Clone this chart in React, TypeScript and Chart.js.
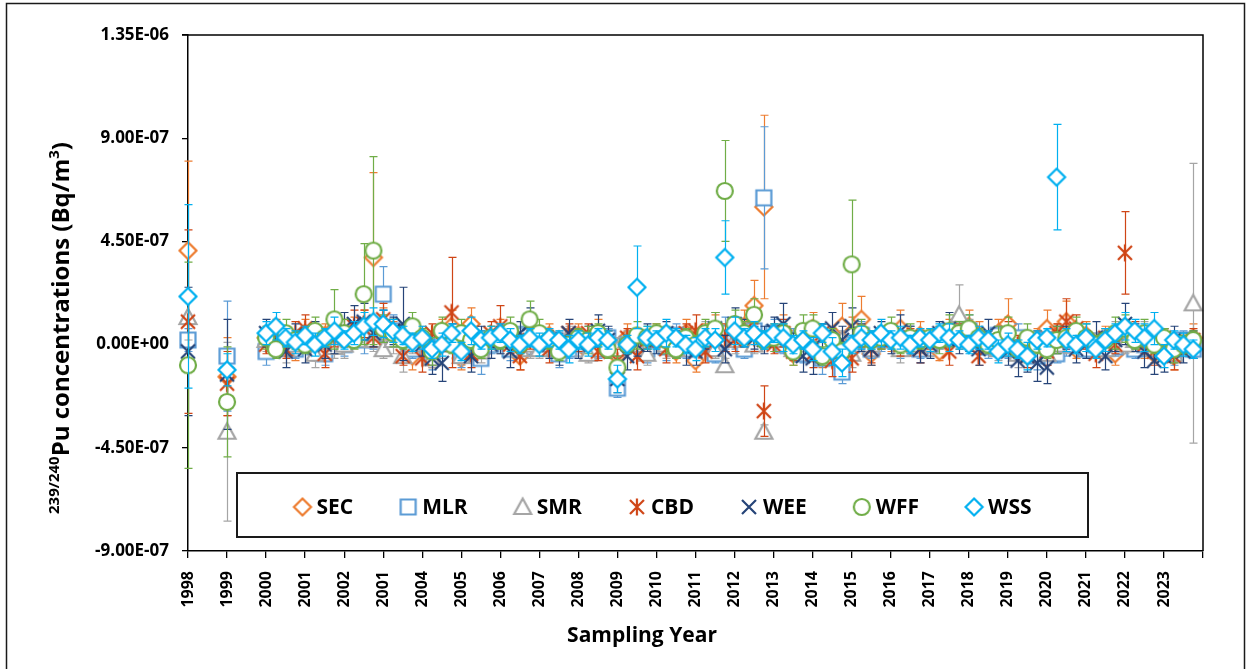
import React, { useEffect, useRef } from 'react';
import { Chart, registerables } from 'chart.js';

Chart.register(...registerables);

const W = 1251;
const H = 669;
const UNIT = 1e-8; // all series values and errors below are in units of 1E-08 Bq/m3

// x positions (sampling year)
const X_YEARS = [
  1998, 1999,
  2000, 2000.25, 2000.5, 2000.75, 2001, 2001.25, 2001.5, 2001.75,
  2002, 2002.25, 2002.5, 2002.75, 2003, 2003.25, 2003.5, 2003.75,
  2004, 2004.25, 2004.5, 2004.75, 2005, 2005.25, 2005.5, 2005.75,
  2006, 2006.25, 2006.5, 2006.75, 2007, 2007.25, 2007.5, 2007.75,
  2008, 2008.25, 2008.5, 2008.75, 2009, 2009.25, 2009.5, 2009.75,
  2010, 2010.25, 2010.5, 2010.75, 2011, 2011.25, 2011.5, 2011.75,
  2012, 2012.25, 2012.5, 2012.75, 2013, 2013.25, 2013.5, 2013.75,
  2014, 2014.25, 2014.5, 2014.75, 2015, 2015.25, 2015.5, 2015.75,
  2016, 2016.25, 2016.5, 2016.75, 2017, 2017.25, 2017.5, 2017.75,
  2018, 2018.25, 2018.5, 2018.75, 2019, 2019.25, 2019.5, 2019.75,
  2020, 2020.25, 2020.5, 2020.75, 2021, 2021.25, 2021.5, 2021.75,
  2022, 2022.25, 2022.5, 2022.75, 2023, 2023.25, 2023.5, 2023.75,
];

const X_TICKS = [1998, 1999, 2000, 2001, 2002, 2003, 2004, 2005, 2006, 2007, 2008, 2009, 2010, 2011, 2012, 2013, 2014, 2015, 2016, 2017, 2018, 2019, 2020, 2021, 2022, 2023, 2024];
const X_TICK_LABELS = ['1998', '1999', '2000', '2001', '2002', '2001', '2004', '2005', '2006', '2007', '2008', '2009', '2010', '2011', '2012', '2013', '2014', '2015', '2016', '2017', '2018', '2019', '2020', '2021', '2022', '2023', ''];

const Y_TICKS = [-9e-7, -4.5e-7, 0, 4.5e-7, 9e-7, 1.35e-6];
const Y_TICK_LABELS = ['-9.00E-07', '-4.50E-07', '0.00E+00', '4.50E-07', '9.00E-07', '1.35E-06'];

const SEC_VAL = [41, -14,
  3, 5, 1, -2, 5, -3, 4, 7, 2, 6, 8, 38, 9, 5, 3, -5, 2, -4, 6, 8, -6, 9, -4, 3,
  5, -1, -5, 4, 2, 4, -3, 1, 4, -3, 5, 2, -5, 3, 2, -1, 4, 2, -3, 5, -7, 3, 6, 2,
  5, 8, 17, 60, 3, 6, -4, 2, 7, -5, 2, 8, 5, 11, -4, 3, 2, 7, -1, 4, 2, -3, 5, 3,
  8, 4, 2, 5, 9, 1, -4, 2, 7, 3, 10, -2, 4, -1, 2, -4, 5, 2, -1, -4, 2, -5, 1, 3];
const SEC_ERR = [39, 17,
  5, 6, 4, 5, 6, 4, 5, 6, 4, 6, 7, 37, 7, 5, 4, 6, 5, 6, 5, 7, 5, 7, 4, 5,
  6, 4, 6, 5, 4, 5, 4, 6, 5, 4, 6, 5, 4, 6, 5, 4, 5, 4, 5, 6, 5, 6, 7, 5,
  6, 7, 11, 40, 6, 7, 5, 4, 7, 5, 6, 10, 7, 10, 5, 4, 5, 8, 4, 6, 5, 4, 6, 5,
  7, 6, 4, 6, 11, 5, 4, 5, 8, 6, 9, 4, 6, 4, 6, 5, 6, 4, 5, 4, 5, 6, 4, 6];

const MLR_VAL = [2, -5,
  -3, 2, 0, -2, 3, -1, -4, 2, 0, 4, 2, 5, 22, 6, 3, -2, 1, -5, 3, 2, -4, 2, -6, 0,
  2, -2, 4, -1, 0, 2, -4, -2, 2, 0, -2, 3, -19, 0, 2, -2, 2, -1, 4, -2, 0, 2, -4, 5,
  3, -2, 6, 64, 5, 0, 2, -4, 2, -6, -4, -12, 0, 4, -2, 2, 3, -1, 2, -2, 0, 2, 4, 5,
  6, 2, -1, 4, -2, 3, 0, -5, 2, -4, 0, 3, -2, 0, 2, -1, 4, -2, 0, 2, 0, -4, 2, -2];
const MLR_ERR = [5, 24,
  6, 4, 5, 4, 4, 6, 5, 4, 5, 4, 6, 7, 12, 7, 5, 4, 4, 6, 4, 5, 6, 4, 7, 4,
  4, 5, 4, 4, 5, 4, 6, 4, 4, 5, 4, 4, 4, 4, 5, 6, 4, 6, 5, 4, 4, 6, 4, 7,
  5, 4, 6, 31, 6, 4, 5, 4, 4, 7, 5, 5, 4, 6, 4, 5, 4, 5, 6, 4, 5, 4, 4, 6,
  7, 4, 5, 4, 4, 6, 4, 6, 5, 4, 5, 6, 4, 5, 4, 4, 6, 4, 5, 6, 4, 5, 4, 4];

const SMR_VAL = [12, -38,
  2, 5, -2, 0, 3, -4, 2, -1, 0, 4, 5, 2, -2, 2, -5, 0, 3, -6, 0, 2, -5, 0, -3, 2,
  2, 4, -2, 0, -2, 0, 2, 4, 0, -4, 2, 0, -2, 2, 0, -4, 4, 0, -2, 2, 0, 4, -2, -9,
  2, 5, 0, -38, 2, 4, -2, 0, 4, 0, -5, 2, -4, 2, 0, 4, 2, -2, 4, 0, 0, 2, 4, 13,
  5, 2, 0, -2, 0, -4, -2, 2, -4, 0, 2, 4, 2, 0, -2, 4, 0, 2, 4, -2, 2, -4, 0, 18];
const SMR_ERR = [10, 39,
  5, 4, 6, 4, 4, 6, 4, 5, 6, 4, 6, 5, 4, 6, 7, 4, 5, 4, 6, 4, 4, 6, 5, 4,
  6, 4, 4, 6, 4, 5, 4, 4, 5, 4, 6, 4, 5, 4, 4, 5, 4, 6, 4, 4, 4, 6, 4, 3,
  6, 4, 4, 3, 5, 4, 4, 6, 4, 6, 4, 4, 6, 4, 5, 4, 4, 6, 4, 4, 5, 4, 4, 13,
  6, 4, 4, 5, 4, 6, 4, 4, 5, 4, 6, 4, 4, 5, 4, 6, 4, 4, 6, 4, 5, 4, 4, 61];

const CBD_VAL = [10, -17,
  0, 4, -2, 5, 7, 2, -4, 3, 5, 8, 9, 3, 11, 6, -5, 3, -6, 5, 2, 14, 3, -4, 2, 5,
  8, 0, -5, 2, 3, -2, 0, 5, 2, 5, -3, 0, -7, 3, -5, 2, 3, -2, 0, 5, 6, -3, 5, 3,
  2, 6, 3, -29, 0, 5, -3, 2, -4, 5, -7, -3, -6, 3, -2, 2, 5, 0, 3, -2, 2, 4, -3, 5,
  3, -5, 2, 0, 4, 0, -5, 2, -3, 5, 10, 7, 2, -4, 3, 0, 40, 5, 0, -3, 3, -5, 0, 2];
const CBD_ERR = [40, 14,
  4, 6, 4, 5, 6, 4, 6, 4, 6, 7, 6, 4, 7, 5, 4, 6, 6, 4, 5, 24, 4, 6, 4, 5,
  9, 4, 6, 4, 4, 6, 4, 4, 5, 4, 4, 6, 5, 4, 6, 4, 4, 6, 4, 4, 7, 5, 4, 6,
  5, 4, 6, 11, 4, 6, 4, 4, 6, 4, 7, 5, 6, 4, 6, 4, 4, 5, 4, 6, 4, 4, 6, 4,
  6, 4, 4, 5, 6, 4, 5, 4, 6, 4, 10, 6, 4, 6, 4, 4, 18, 5, 4, 6, 4, 6, 4, 5];

const WEE_VAL = [-3, -13,
  5, 2, -3, 4, -2, 5, 0, 3, 7, 9, 10, 5, 8, 6, 9, 3, 0, -6, -8, 3, 2, -5, 3, 0,
  2, -3, 5, 9, 3, 0, -2, 5, 0, 3, 6, 2, -15, -5, 0, 3, 2, 5, 0, -2, -3, 3, 7, -2,
  9, 5, 3, 2, 6, 9, 0, -5, -6, 3, 7, 2, 8, 3, -2, 5, 2, 6, 3, -2, 0, 5, 7, 2,
  3, -2, 5, 0, -3, -7, -5, -8, -10, 2, 3, -2, 0, 3, -5, 2, 9, 3, -3, -7, -5, 2, -3, 0];
const WEE_ERR = [28, 24,
  6, 5, 7, 5, 6, 5, 6, 7, 7, 8, 8, 6, 7, 6, 16, 6, 5, 7, 8, 6, 6, 7, 5, 6,
  6, 7, 5, 7, 5, 6, 7, 6, 6, 5, 7, 6, 6, 6, 5, 6, 6, 5, 6, 7, 6, 5, 7, 6,
  7, 6, 5, 6, 6, 9, 5, 7, 7, 6, 7, 6, 8, 6, 7, 5, 6, 7, 5, 6, 6, 5, 7, 6,
  6, 7, 6, 5, 6, 7, 7, 8, 7, 6, 5, 6, 6, 7, 6, 5, 9, 6, 7, 6, 7, 6, 5, 6];

const WFF_VAL = [-9, -25,
  3, -2, 5, 2, 0, 6, 3, 11, 5, 2, 22, 41, 7, 5, 2, 8, 3, -3, 6, 0, 5, 2, -2, 3,
  2, 6, 0, 11, 5, 2, -3, 0, 3, 2, 5, -2, -10, 0, 4, 3, 5, 2, -2, 3, 0, 5, 7, 67,
  9, 5, 13, 2, 3, 5, -3, 6, 7, -5, 2, -3, 35, 5, 2, 3, 6, 0, 3, 2, 3, 2, 6, 5,
  7, 3, 0, 2, 5, -2, 3, 0, -2, 2, 3, 6, 3, 0, 2, 5, 7, 2, 5, 0, 3, -2, 0, 2];
const WFF_ERR = [45, 24,
  5, 4, 6, 4, 4, 6, 4, 13, 6, 4, 22, 41, 6, 6, 4, 6, 4, 6, 6, 4, 6, 4, 4, 5,
  4, 6, 4, 8, 6, 4, 4, 4, 4, 6, 4, 4, 5, 4, 6, 5, 4, 6, 4, 4, 4, 6, 7, 22,
  6, 5, 7, 4, 6, 4, 6, 7, 6, 4, 5, 4, 28, 6, 4, 5, 6, 4, 6, 4, 4, 6, 7, 5,
  6, 4, 4, 6, 7, 4, 6, 4, 4, 6, 4, 6, 6, 4, 5, 7, 6, 4, 6, 4, 4, 6, 4, 4];

const WSS_VAL = [21, -11,
  5, 8, 3, 1, 4, 0, 3, 6, 2, 5, 8, 10, 9, 6, 4, 1, 3, -2, 0, 5, -3, 6, 2, 3,
  5, 2, 0, 3, 0, 3, 2, -2, 2, 0, 3, 2, -15, 0, 25, 3, 2, 5, 3, 0, -2, 3, 2, 38,
  6, 3, 5, 2, 5, 3, 0, 2, -2, 5, -3, -8, 0, 3, 2, 5, 2, 3, 0, 3, 2, 5, 3, 2,
  0, 3, 2, -3, 0, -2, -5, 2, 3, 73, 2, 0, 3, -2, 2, 5, 8, 6, 3, 7, -5, 2, 0, -2];
const WSS_ERR = [40, 7,
  5, 6, 4, 5, 4, 5, 4, 6, 4, 5, 6, 6, 6, 5, 4, 4, 5, 4, 5, 4, 4, 6, 4, 5,
  4, 5, 4, 4, 5, 4, 4, 6, 4, 5, 4, 4, 6, 4, 18, 5, 4, 6, 4, 4, 5, 4, 5, 16,
  6, 4, 5, 4, 4, 6, 4, 4, 5, 4, 6, 6, 4, 5, 4, 6, 4, 5, 4, 4, 5, 4, 6, 4,
  4, 5, 4, 5, 5, 4, 6, 4, 4, 23, 5, 4, 6, 4, 5, 4, 6, 5, 6, 7, 5, 4, 5, 4];

type MarkerKind = 'diamond' | 'square' | 'triangle' | 'star' | 'x' | 'circle';

const SERIES: { label: string; color: string; marker: MarkerKind; val: number[]; err: number[] }[] = [
  { label: 'SEC', color: '#ED7D31', marker: 'diamond', val: SEC_VAL, err: SEC_ERR },
  { label: 'MLR', color: '#5B9BD5', marker: 'square', val: MLR_VAL, err: MLR_ERR },
  { label: 'SMR', color: '#A5A5A5', marker: 'triangle', val: SMR_VAL, err: SMR_ERR },
  { label: 'CBD', color: '#CF4516', marker: 'star', val: CBD_VAL, err: CBD_ERR },
  { label: 'WEE', color: '#264478', marker: 'x', val: WEE_VAL, err: WEE_ERR },
  { label: 'WFF', color: '#70AD47', marker: 'circle', val: WFF_VAL, err: WFF_ERR },
  { label: 'WSS', color: '#00B0F0', marker: 'diamond', val: WSS_VAL, err: WSS_ERR },
];

const FONT = '"Open Sans", "DejaVu Sans", sans-serif';

function makeMarker(kind: MarkerKind, color: string): HTMLCanvasElement {
  const s = 26;
  const c = document.createElement('canvas');
  c.width = s;
  c.height = s;
  const ctx = c.getContext('2d')!;
  const m = s / 2;
  ctx.lineWidth = 2.2;
  ctx.strokeStyle = color;
  ctx.fillStyle = '#ffffff';
  ctx.lineJoin = 'miter';
  ctx.beginPath();
  if (kind === 'diamond') {
    ctx.moveTo(m, m - 8.5);
    ctx.lineTo(m + 8.5, m);
    ctx.lineTo(m, m + 8.5);
    ctx.lineTo(m - 8.5, m);
    ctx.closePath();
    ctx.fill();
    ctx.stroke();
  } else if (kind === 'square') {
    ctx.rect(m - 7.5, m - 7.5, 15, 15);
    ctx.fill();
    ctx.stroke();
  } else if (kind === 'triangle') {
    ctx.moveTo(m, m - 8.5);
    ctx.lineTo(m + 8.5, m + 7);
    ctx.lineTo(m - 8.5, m + 7);
    ctx.closePath();
    ctx.fill();
    ctx.stroke();
  } else if (kind === 'circle') {
    ctx.arc(m, m, 8, 0, Math.PI * 2);
    ctx.fill();
    ctx.stroke();
  } else {
    ctx.moveTo(m - 7, m - 7);
    ctx.lineTo(m + 7, m + 7);
    ctx.moveTo(m + 7, m - 7);
    ctx.lineTo(m - 7, m + 7);
    if (kind === 'star') {
      ctx.moveTo(m, m - 8.5);
      ctx.lineTo(m, m + 8.5);
    }
    ctx.stroke();
  }
  return c;
}

export default function App() {
  const ref = useRef<HTMLCanvasElement>(null);

  useEffect(() => {
    const canvas = ref.current;
    if (!canvas) return;
    const markers = SERIES.map((s) => makeMarker(s.marker, s.color));

    const datasets = SERIES.map((s, si) => ({
      label: s.label,
      data: X_YEARS.map((x, i) => ({ x, y: s.val[i] * UNIT })),
      showLine: false,
      pointStyle: markers[si] as any,
      pointRadius: 9,
      pointHoverRadius: 9,
      borderColor: s.color,
      backgroundColor: '#ffffff',
      clip: false as any,
      order: SERIES.length - si,
    }));

    const decor = {
      id: 'decor',
      beforeDraw(chart: any) {
        const ctx = chart.ctx;
        ctx.save();
        ctx.fillStyle = '#ffffff';
        ctx.fillRect(0, 0, W, H);
        ctx.strokeStyle = '#1a1a1a';
        ctx.lineWidth = 1.5;
        ctx.strokeRect(6.5, 3.5, 1238, 720);
        ctx.restore();
      },
      beforeDatasetDraw(chart: any, args: any) {
        const s = SERIES[args.index];
        if (!s) return;
        const ctx = chart.ctx;
        const xs = chart.scales.x;
        const ys = chart.scales.y;
        ctx.save();
        ctx.strokeStyle = s.color;
        ctx.lineWidth = 1.2;
        ctx.beginPath();
        X_YEARS.forEach((xv, i) => {
          const v = s.val[i];
          const e = s.err[i];
          const px = Math.round(xs.getPixelForValue(xv)) + 0.5;
          const pt = ys.getPixelForValue((v + e) * UNIT);
          const pb = ys.getPixelForValue((v - e) * UNIT);
          ctx.moveTo(px, pt);
          ctx.lineTo(px, pb);
          ctx.moveTo(px - 4, pt);
          ctx.lineTo(px + 4, pt);
          ctx.moveTo(px - 4, pb);
          ctx.lineTo(px + 4, pb);
        });
        ctx.stroke();
        ctx.restore();
      },
      afterDatasetsDraw(chart: any) {
        const ctx = chart.ctx;
        const a = chart.chartArea;
        ctx.save();
        ctx.strokeStyle = '#000000';
        ctx.lineWidth = 1.5;
        ctx.beginPath();
        ctx.moveTo(a.left - 6, a.top);
        ctx.lineTo(a.right, a.top);
        ctx.lineTo(a.right, a.bottom);
        ctx.stroke();
        ctx.restore();
      },
      afterDraw(chart: any) {
        const ctx = chart.ctx;
        const a = chart.chartArea;
        ctx.save();
        // legend box
        const bx = a.left + 49;
        const by = 473;
        const bw = 851;
        const bh = 64;
        ctx.fillStyle = '#ffffff';
        ctx.fillRect(bx, by, bw, bh);
        ctx.strokeStyle = '#1a1a1a';
        ctx.lineWidth = 2;
        ctx.strokeRect(bx, by, bw, bh);
        ctx.font = `bold 21px ${FONT}`;
        ctx.fillStyle = '#000000';
        ctx.textBaseline = 'middle';
        ctx.textAlign = 'left';
        const gapLabel = 14;
        const gapNext = 55;
        const widths = SERIES.map((s) => ctx.measureText(s.label).width);
        let total = 9;
        widths.forEach((w, i) => {
          total += gapLabel + w + (i < widths.length - 1 ? gapNext : 0);
        });
        let x = bx + bw / 2 - total / 2 + 9;
        const cy = by + bh / 2 + 2;
        SERIES.forEach((s, i) => {
          const mk = markers[i];
          ctx.drawImage(mk, x - mk.width / 2, cy - mk.height / 2);
          ctx.fillText(s.label, x + gapLabel, cy + 1);
          x += gapLabel + widths[i] + gapNext;
        });

        // x axis title
        ctx.font = `bold 21px ${FONT}`;
        ctx.textAlign = 'center';
        ctx.textBaseline = 'alphabetic';
        ctx.fillText('Sampling Year', 642, 642);

        // y axis title with superscripts
        const parts = [
          { t: '239/240', sup: true },
          { t: 'Pu concentrations (Bq/m', sup: false },
          { t: '3', sup: true },
          { t: ')', sup: false },
        ];
        const bigF = `bold 24px ${FONT}`;
        const supF = `bold 15px ${FONT}`;
        const pw = parts.map((p) => {
          ctx.font = p.sup ? supF : bigF;
          return ctx.measureText(p.t).width;
        });
        const tw = pw.reduce((q, w) => q + w, 0);
        ctx.translate(69, 328);
        ctx.rotate(-Math.PI / 2);
        ctx.textAlign = 'left';
        let tx = -tw / 2;
        parts.forEach((p, i) => {
          ctx.font = p.sup ? supF : bigF;
          ctx.fillText(p.t, tx, p.sup ? -10 : 0);
          tx += pw[i];
        });
        ctx.restore();
      },
    };

    const chart = new Chart(canvas, {
      type: 'scatter',
      data: { datasets: datasets as any },
      options: {
        responsive: false,
        maintainAspectRatio: false,
        animation: false,
        events: [],
        layout: { padding: { left: 0, top: 35, right: W - 1203, bottom: 0 } },
        plugins: {
          legend: { display: false },
          tooltip: { enabled: false },
          title: { display: false },
        },
        scales: {
          x: {
            type: 'linear',
            min: 1998,
            max: 2024,
            afterBuildTicks: (scale: any) => {
              scale.ticks = X_TICKS.map((v) => ({ value: v }));
            },
            afterFit: (scale: any) => {
              scale.height = H - 551;
            },
            ticks: {
              autoSkip: false,
              minRotation: 90,
              maxRotation: 90,
              padding: 13,
              color: '#000000',
              font: { family: FONT, size: 16, weight: 'bold' },
              callback: (_v: any, i: number) => X_TICK_LABELS[i] ?? '',
            },
            grid: {
              display: true,
              drawOnChartArea: false,
              drawTicks: true,
              tickLength: 7,
              color: '#000000',
              lineWidth: 1.3,
            },
            border: { display: true, color: '#000000', width: 1.5 },
          },
          y: {
            type: 'linear',
            min: -9e-7,
            max: 1.35e-6,
            afterBuildTicks: (scale: any) => {
              scale.ticks = Y_TICKS.map((v) => ({ value: v }));
            },
            afterFit: (scale: any) => {
              scale.width = 188;
            },
            ticks: {
              padding: 13,
              color: '#000000',
              font: { family: FONT, size: 17, weight: 'bold' },
              callback: (_v: any, i: number) => Y_TICK_LABELS[i] ?? '',
            },
            grid: {
              display: true,
              drawOnChartArea: false,
              drawTicks: true,
              tickLength: 6,
              color: '#000000',
              lineWidth: 1.3,
            },
            border: { display: true, color: '#000000', width: 1.5 },
          },
        },
      },
      plugins: [decor],
    } as any);

    return () => chart.destroy();
  }, []);

  return (
    <div style={{ position: 'fixed', left: 0, top: 0, width: W, height: H, background: '#ffffff' }}>
      <canvas ref={ref} width={W} height={H} style={{ width: W, height: H, display: 'block' }} />
    </div>
  );
}
